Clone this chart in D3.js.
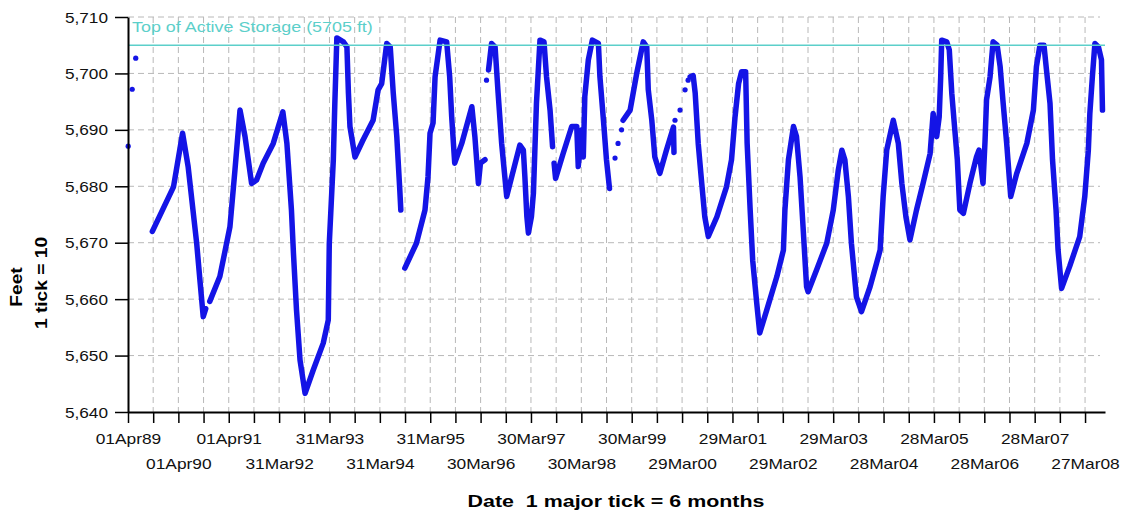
<!DOCTYPE html>
<html>
<head>
<meta charset="utf-8">
<script src="https://cdn.jsdelivr.net/npm/d3@7"></script>
<style>
  body { margin: 0; background: #fff; }
  svg { font-family: "Liberation Sans", Arial, sans-serif; }
</style>
</head>
<body>
<script>
// reservoir elevation (ft), time given as decimal year
var yTicks = [5640, 5650, 5660, 5670, 5680, 5690, 5700, 5710]
var xLabels = ["01Apr89", "01Apr90", "01Apr91", "31Mar92", "31Mar93", "31Mar94", "31Mar95",
  "30Mar96", "30Mar97", "30Mar98", "30Mar99", "29Mar00", "29Mar01", "29Mar02", "29Mar03",
  "28Mar04", "28Mar05", "28Mar06", "28Mar07", "27Mar08"]
var topStorage = 5705
var topLabel = "Top of Active Storage (5705 ft)"
var xEnd = 2008.63

var looseDots = [[1989.25, 5687.1], [1989.33, 5697.2], [1989.40, 5702.7], [1996.36, 5698.8],
  [1998.91, 5685.0], [1998.97, 5687.6], [1999.04, 5690.0],
  [2000.10, 5691.7], [2000.20, 5693.5], [2000.30, 5697.1], [2000.36, 5698.8]]

var seg1989 = [[1989.73, 5672.0], [1990.15, 5679.9], [1990.33, 5689.4], [1990.44, 5683.5],
  [1990.61, 5669.9], [1990.68, 5662.8], [1990.74, 5656.9], [1990.79, 5658.3]]

var seg1990 = [[1990.87, 5659.6], [1991.07, 5664.0], [1991.27, 5672.8], [1991.37, 5682.9],
  [1991.47, 5693.5], [1991.57, 5688.8], [1991.70, 5680.5], [1991.80, 5681.1], [1991.93, 5684.1],
  [1992.13, 5687.6], [1992.32, 5693.2], [1992.40, 5687.6], [1992.49, 5675.8], [1992.53, 5668.1],
  [1992.59, 5658.1], [1992.66, 5649.2], [1992.76, 5643.3], [1992.92, 5647.4], [1993.12, 5652.2],
  [1993.22, 5656.3], [1993.24, 5669.9], [1993.32, 5684.7], [1993.35, 5694.7], [1993.39, 5706.3],
  [1993.52, 5705.6], [1993.59, 5704.7], [1993.62, 5696.5], [1993.65, 5690.6], [1993.75, 5685.2],
  [1993.91, 5688.2], [1994.11, 5691.7], [1994.21, 5697.1], [1994.28, 5698.2], [1994.38, 5705.3],
  [1994.45, 5704.7], [1994.51, 5696.5], [1994.58, 5688.8], [1994.64, 5679.3], [1994.66, 5675.8]]

var seg1994 = [[1994.74, 5665.5], [1994.97, 5669.9], [1995.14, 5675.8], [1995.20, 5681.7],
  [1995.24, 5689.4], [1995.30, 5691.2], [1995.34, 5699.4], [1995.44, 5705.9], [1995.57, 5705.6],
  [1995.63, 5699.4], [1995.67, 5692.3], [1995.73, 5684.1], [1995.87, 5687.6], [1996.07, 5694.1],
  [1996.13, 5688.8], [1996.20, 5680.5], [1996.24, 5684.1], [1996.33, 5684.7]]

var seg1996 = [[1996.40, 5700.6], [1996.46, 5705.3], [1996.53, 5704.7], [1996.59, 5696.5],
  [1996.66, 5687.6], [1996.76, 5678.2], [1996.86, 5681.7], [1997.02, 5687.3], [1997.09, 5686.4],
  [1997.12, 5681.7], [1997.16, 5674.6], [1997.19, 5671.7], [1997.25, 5674.6], [1997.29, 5678.8],
  [1997.35, 5694.7], [1997.42, 5705.9], [1997.50, 5705.6], [1997.55, 5699.4], [1997.62, 5693.5],
  [1997.67, 5687.0]]

var seg1997 = [[1997.70, 5684.1], [1997.73, 5681.4], [1997.88, 5685.8], [1998.05, 5690.6],
  [1998.15, 5690.6], [1998.18, 5683.5], [1998.25, 5690.0], [1998.28, 5685.2], [1998.31, 5695.9],
  [1998.38, 5702.4], [1998.46, 5705.9], [1998.58, 5705.3], [1998.61, 5699.4], [1998.68, 5691.7],
  [1998.74, 5684.7], [1998.80, 5679.6]]

var seg1999 = [[1999.07, 5691.7], [1999.21, 5693.5], [1999.34, 5700.0], [1999.47, 5705.6],
  [1999.54, 5704.7], [1999.57, 5697.1], [1999.64, 5691.7], [1999.70, 5685.2], [1999.80, 5682.3],
  [1999.93, 5686.4], [2000.07, 5690.5], [2000.08, 5686.0]]

var seg2000 = [[2000.40, 5699.4], [2000.46, 5699.6], [2000.50, 5696.5], [2000.56, 5687.6],
  [2000.63, 5680.5], [2000.69, 5674.6], [2000.76, 5671.1], [2000.93, 5674.6], [2001.12, 5679.9],
  [2001.22, 5684.7], [2001.29, 5692.3], [2001.36, 5698.2], [2001.42, 5700.3], [2001.50, 5700.3],
  [2001.53, 5687.6], [2001.59, 5675.8], [2001.64, 5666.9], [2001.72, 5659.3], [2001.78, 5654.0],
  [2001.92, 5658.1], [2002.12, 5664.0], [2002.25, 5668.7], [2002.28, 5675.8], [2002.35, 5684.7],
  [2002.45, 5690.6], [2002.51, 5688.8], [2002.58, 5681.7], [2002.64, 5672.8], [2002.71, 5662.2],
  [2002.74, 5661.3], [2002.91, 5665.2], [2003.11, 5669.9], [2003.24, 5675.8], [2003.34, 5682.9],
  [2003.41, 5686.4], [2003.47, 5684.7], [2003.54, 5678.2], [2003.60, 5669.9], [2003.70, 5660.4],
  [2003.80, 5657.8], [2003.97, 5662.2], [2004.10, 5666.4], [2004.17, 5668.7], [2004.23, 5678.2],
  [2004.30, 5686.4], [2004.43, 5691.7], [2004.53, 5687.6], [2004.60, 5680.5], [2004.68, 5674.6],
  [2004.76, 5670.5], [2004.89, 5675.8], [2005.02, 5680.5], [2005.16, 5685.8], [2005.22, 5692.9],
  [2005.29, 5688.8], [2005.34, 5692.3], [2005.37, 5699.4], [2005.39, 5705.9], [2005.49, 5705.6],
  [2005.54, 5704.2], [2005.59, 5696.5], [2005.65, 5690.0], [2005.70, 5684.7], [2005.75, 5675.8],
  [2005.82, 5675.2], [2005.95, 5680.5], [2006.08, 5685.2], [2006.13, 5686.4], [2006.21, 5680.5],
  [2006.25, 5688.0], [2006.28, 5695.3], [2006.35, 5699.4], [2006.41, 5705.6], [2006.49, 5705.0],
  [2006.55, 5701.2], [2006.61, 5694.7], [2006.68, 5687.6], [2006.76, 5678.2], [2006.88, 5682.3],
  [2007.08, 5687.6], [2007.21, 5693.5], [2007.27, 5701.2], [2007.34, 5705.0], [2007.42, 5705.0],
  [2007.47, 5700.6], [2007.54, 5694.7], [2007.59, 5684.7], [2007.66, 5675.8], [2007.70, 5668.7],
  [2007.77, 5661.9], [2007.93, 5665.8], [2008.13, 5671.1], [2008.23, 5678.2], [2008.30, 5686.4],
  [2008.33, 5692.9], [2008.38, 5699.4], [2008.43, 5705.3], [2008.50, 5704.7], [2008.56, 5702.4],
  [2008.58, 5693.5]]

var segments = [seg1989, seg1990, seg1994, seg1996, seg1997, seg1999, seg2000]

var margin = {top: 17, right: 28, bottom: 105, left: 128},
    width = 1133 - margin.left - margin.right,
    height = 517 - margin.top - margin.bottom;

var blue = "#1414e6"
var teal = "#5ccfca"
var gridColor = "#b8b8b8"

var parseLabel = d3.timeParse("%d%b%y")

function decYear(t) {
  var y = Math.floor(t)
  var a = new Date(y, 0, 1), b = new Date(y + 1, 0, 1)
  return new Date(+a + (t - y) * (b - a))
}

var majorDates = xLabels.map(parseLabel)
var allTicks = []
majorDates.forEach(function(d, i) {
  allTicks.push(d)
  if (i < majorDates.length - 1) {
    allTicks.push(new Date((+d + +majorDates[i + 1]) / 2))
  }
})

var xScale = d3.scaleTime()
    .domain([majorDates[0], decYear(xEnd)])
    .range([0, width]);
var yScale = d3.scaleLinear()
    .domain([yTicks[0], yTicks[yTicks.length - 1]])
    .range([height, 0]);

var svg = d3.select("body").append("svg")
    .attr("width", 1133)
    .attr("height", 517)
  .append("g")
    .attr("transform", "translate(" + margin.left + "," + margin.top + ")");

// grid
svg.append("g").selectAll("line")
    .data(yTicks.slice(1))
    .enter().append("line")
    .attr("x1", 0)
    .attr("x2", width - 5)
    .attr("y1", function(d) { return yScale(d); })
    .attr("y2", function(d) { return yScale(d); })
    .attr("stroke", gridColor)
    .attr("stroke-dasharray", "6,4");

svg.append("g").selectAll("line")
    .data(allTicks.slice(1))
    .enter().append("line")
    .attr("x1", function(d) { return xScale(d); })
    .attr("x2", function(d) { return xScale(d); })
    .attr("y1", 0)
    .attr("y2", height)
    .attr("stroke", gridColor)
    .attr("stroke-dasharray", "6,4");

// elevation
var line = d3.line()
    .x(function(d) { return xScale(decYear(d[0])); })
    .y(function(d) { return yScale(d[1]); });

svg.append("g").selectAll("path")
    .data(segments)
    .enter().append("path")
    .attr("d", line)
    .attr("fill", "none")
    .attr("stroke", blue)
    .attr("stroke-width", 5.5)
    .attr("stroke-linejoin", "round")
    .attr("stroke-linecap", "round");

svg.append("g").selectAll("circle")
    .data(looseDots)
    .enter().append("circle")
    .attr("cx", function(d) { return xScale(decYear(d[0])); })
    .attr("cy", function(d) { return yScale(d[1]); })
    .attr("r", 2.6)
    .attr("fill", blue);

// top of active storage
svg.append("line")
    .attr("x1", 0)
    .attr("x2", width)
    .attr("y1", yScale(topStorage))
    .attr("y2", yScale(topStorage))
    .attr("stroke", teal)
    .attr("stroke-width", 1.5);

svg.append("text")
    .attr("transform", "translate(4," + (yScale(topStorage) - 13) + ") scale(1.28,1)")
    .attr("fill", teal)
    .style("font-size", "14px")
    .text(topLabel);

// axes
var yAxis = svg.append("g")
    .call(d3.axisLeft(yScale)
      .tickValues(yTicks)
      .tickFormat(d3.format(","))
      .tickSize(13)
      .tickSizeOuter(0));

var xAxis = svg.append("g")
    .attr("transform", "translate(0," + height + ")")
    .call(d3.axisBottom(xScale)
      .tickValues(allTicks)
      .tickSize(11)
      .tickSizeOuter(0)
      .tickFormat(function(d, i) { return i % 2 == 0 ? xLabels[i / 2] : ""; }));

[yAxis, xAxis].forEach(function(ax) {
  ax.select(".domain").attr("stroke", "#000").attr("stroke-width", 2);
  ax.selectAll(".tick line").attr("stroke", "#000").attr("stroke-width", 1.5);
  ax.selectAll("text")
    .attr("fill", "#111")
    .style("font-size", "14px")
    .style("font-family", "'Liberation Sans', Arial, sans-serif");
})

yAxis.selectAll("text")
    .attr("x", -20 / 1.23)
    .attr("dy", "0.36em")
    .attr("transform", "scale(1.23,1)");

xAxis.selectAll("text")
    .attr("y", function(d, i) { return (i / 2) % 2 == 0 ? 22 : 47; })
    .attr("dy", "0.71em")
    .attr("transform", "scale(1.24,1)");

// titles
svg.append("text")
    .attr("transform", "translate(" + (616 - margin.left) + "," + (height + 95) + ") scale(1.26,1)")
    .attr("text-anchor", "middle")
    .style("font-size", "17px")
    .style("font-weight", "bold")
    .style("white-space", "pre")
    .text("Date  1 major tick = 6 months");

svg.append("text")
    .attr("transform", "translate(" + (22 - margin.left) + ",270) rotate(-90) scale(1.2,1)")
    .attr("text-anchor", "middle")
    .style("font-size", "16px")
    .style("font-weight", "bold")
    .text("Feet");

svg.append("text")
    .attr("transform", "translate(" + (47 - margin.left) + ",266) rotate(-90) scale(1.2,1)")
    .attr("text-anchor", "middle")
    .style("font-size", "16px")
    .style("font-weight", "bold")
    .text("1 tick = 10");
</script>
</body>
</html>
